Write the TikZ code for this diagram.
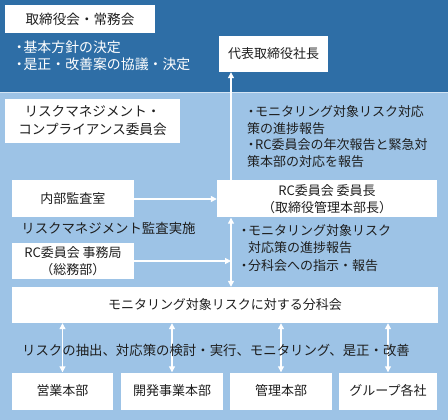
\documentclass[tikz,border=0pt]{standalone}
\usepackage{fontspec}
\newfontfamily\jp{Noto Sans CJK JP}
\usetikzlibrary{arrows.meta}

\definecolor{deepblue}{HTML}{2E6EA6}
\definecolor{paleblue}{HTML}{9DC3E6}
\definecolor{inkgray}{HTML}{1E1E1E}
\newcommand{\bul}{\makebox[0.6em]{・}}

\begin{document}
\begin{tikzpicture}[x=1pt, y=-1pt,
    box/.style={fill=white, text=inkgray, inner sep=0pt, align=center,
                font=\jp\fontsize{13}{16.5}\selectfont},
    bigbox/.style={box, font=\jp\fontsize{13.6}{18}\selectfont},
    note/.style={text=inkgray, inner sep=0pt, align=left,
                 font=\jp\fontsize{13}{16.5}\selectfont},
    wide/.style={font=\jp\fontsize{13.4}{16.5}\selectfont},
    flow/.style={draw=white, line width=1.2pt, -{Triangle[length=6pt,width=6pt]}},
    twoway/.style={draw=white, line width=1.2pt,
                   {Triangle[length=6pt,width=6pt]}-{Triangle[length=6pt,width=6pt]}}]

    \useasboundingbox (0,0) rectangle (448,420);

    % Draw Background
    \fill[deepblue] (0,0) rectangle (448,92);                     % Board Area
    \fill[white!55!paleblue] (0,92) rectangle (448,93.5);         % Separator
    \fill[paleblue] (0,93.5) rectangle (448,420);                 % Committee Area

    % Draw Top Area
    \node[bigbox, minimum width=150pt, minimum height=28pt] (board) at (80,19) {取締役会・常務会};
    \node[note, text=white, anchor=west, font=\jp\fontsize{13.9}{16.5}\selectfont] (policy) at (15,56)
        {\bul 基本方針の決定\\\bul 是正・改善案の協議・決定};
    \node[box, minimum width=109pt, minimum height=36pt] (ceo) at (273.5,54) {代表取締役社長};

    % Draw Committee Boxes
    \node[bigbox, minimum width=175pt, minimum height=44pt] (rcc) at (92.5,121)
        {リスクマネジメント・\\コンプライアンス委員会};
    \node[box, minimum width=122pt, minimum height=37pt] (audit) at (73,199) {内部監査室};
    \node[box, minimum width=220pt, minimum height=37pt] (chair) at (327,199)
        {RC委員会 委員長\\（取締役管理本部長）};
    \node[box, minimum width=122pt, minimum height=36pt] (secr) at (73,261)
        {RC委員会 事務局\\（総務部）};
    \node[box, minimum width=426pt, minimum height=36pt] (sub) at (225,305)
        {モニタリング対象リスクに対する分科会};

    % Draw Departments
    \node[box, minimum width=101pt, minimum height=37pt] (sales) at (62.5,391) {営業本部};
    \node[box, minimum width=102pt, minimum height=37pt] (dev) at (172,391) {開発事業本部};
    \node[box, minimum width=102pt, minimum height=37pt] (admin) at (281,391) {管理本部};
    \node[box, minimum width=98pt, minimum height=37pt] (group) at (388,391) {グループ各社};

    % Draw Connectors
    \coordinate (spine) at (231,0);
    \coordinate (junction) at (secr.east -| spine);
    \draw[flow] (chair.north -| spine) -- (ceo.south -| spine);
    \draw[flow] (audit) -- (chair);
    \draw[twoway] (chair.south -| spine) -- (sub.north -| spine);
    \draw[flow] (secr) -- (junction);
    \foreach \unit in {sales, dev, admin, group}{
      \draw[twoway] (sub.south -| \unit.north) -- (\unit.north);
    }

    % Draw Notes
    \node[note, anchor=west] (report) at (247,136.5)
        {\bul モニタリング対象リスク対応\\策の進捗報告\\\bul RC委員会の年次報告と緊急対\\策本部の対応を報告};
    \node[note, wide] (auditnote) at (108.5,228) {リスクマネジメント監査実施};
    \node[note, anchor=west, font=\jp\fontsize{13}{17.5}\selectfont] (order) at (240,248)
        {\bul モニタリング対象リスク\\\hphantom{\bul}対応策の進捗報告\\\bul 分科会への指示・報告};
    \node[note, wide] (tasks) at (216,350) {リスクの抽出、対応策の検討・実行、モニタリング、是正・改善};
\end{tikzpicture}
\end{document}
